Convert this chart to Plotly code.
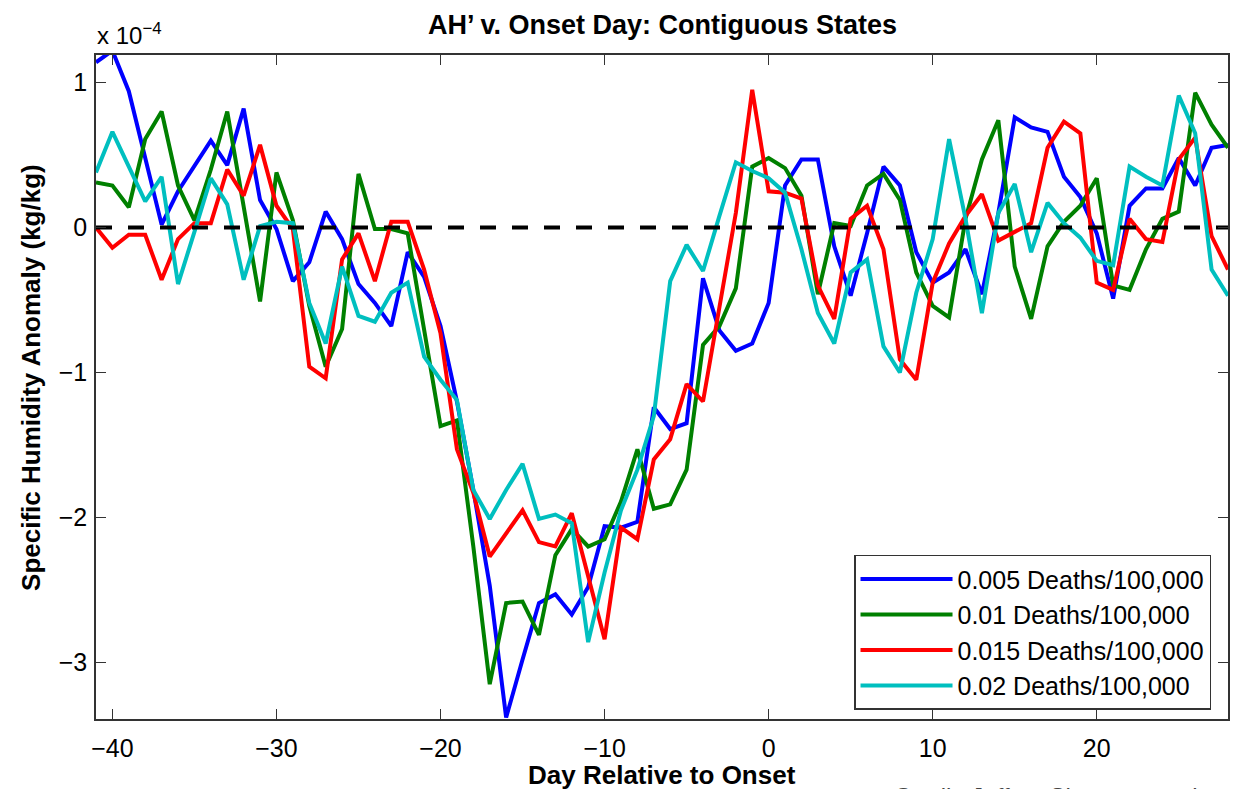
import plotly.graph_objects as go

days = list(range(-41, 29))

# values in units of 1e-4 kg/kg
blue_005 = [1.14, 1.22, 0.94, 0.48, 0.02, 0.25, 0.43, 0.60, 0.43, 0.82,
            0.19, -0.01, -0.37, -0.24, 0.11, -0.08, -0.39, -0.52, -0.68, -0.17,
            -0.34, -0.68, -1.20, -1.81, -2.47, -3.38, -2.98, -2.59, -2.53, -2.67,
            -2.48, -2.06, -2.07, -2.03, -1.24, -1.39, -1.35, -0.35, -0.71, -0.85,
            -0.80, -0.52, 0.29, 0.47, 0.47, -0.13, -0.47, -0.04, 0.42, 0.29,
            -0.17, -0.38, -0.31, -0.15, -0.46, 0.10, 0.76, 0.69, 0.66, 0.35,
            0.21, -0.04, -0.49, 0.15, 0.27, 0.27, 0.48, 0.29, 0.55, 0.57]
green_01 = [0.31, 0.29, 0.14, 0.61, 0.80, 0.29, 0.05, 0.40, 0.80, 0.15,
            -0.51, 0.38, 0.05, -0.54, -0.96, -0.70, 0.37, -0.01, -0.01, -0.04,
            -0.70, -1.37, -1.33, -2.20, -3.15, -2.59, -2.58, -2.81, -2.26, -2.08,
            -2.20, -2.15, -1.89, -1.53, -1.94, -1.91, -1.67, -0.81, -0.68, -0.42,
            0.42, 0.48, 0.41, 0.22, -0.46, 0.03, 0.01, 0.29, 0.37, 0.19,
            -0.31, -0.54, -0.62, 0.06, 0.47, 0.74, -0.27, -0.63, -0.13, 0.04,
            0.15, 0.34, -0.40, -0.43, -0.15, 0.06, 0.11, 0.93, 0.71, 0.55]
red_015 = [0.00, -0.14, -0.05, -0.05, -0.36, -0.08, 0.03, 0.03, 0.40, 0.22,
           0.57, 0.15, -0.01, -0.96, -1.04, -0.22, -0.04, -0.37, 0.04, 0.04,
           -0.29, -0.73, -1.53, -1.83, -2.27, -2.11, -1.95, -2.17, -2.20, -1.97,
           -2.40, -2.84, -2.07, -2.15, -1.60, -1.46, -1.08, -1.20, -0.55, 0.10,
           0.95, 0.25, 0.24, 0.20, -0.40, -0.63, 0.06, 0.15, -0.15, -0.91,
           -1.05, -0.38, -0.11, 0.08, 0.23, -0.09, -0.03, 0.03, 0.55, 0.73,
           0.65, -0.38, -0.43, 0.06, -0.08, -0.10, 0.47, 0.62, -0.06, -0.29]
cyan_02 = [0.38, 0.66, 0.42, 0.18, 0.35, -0.39, -0.03, 0.34, 0.16, -0.36,
           0.01, 0.04, 0.03, -0.52, -0.80, -0.27, -0.61, -0.65, -0.45, -0.38,
           -0.89, -1.05, -1.19, -1.81, -2.01, -1.81, -1.63, -2.01, -1.98, -2.04,
           -2.86, -2.38, -1.95, -1.67, -1.30, -0.37, -0.12, -0.30, 0.08, 0.45,
           0.39, 0.34, 0.24, -0.15, -0.59, -0.80, -0.31, -0.22, -0.82, -1.00,
           -0.45, -0.08, 0.61, 0.06, -0.59, 0.10, 0.30, -0.17, 0.17, 0.03,
           -0.07, -0.23, -0.26, 0.42, 0.35, 0.29, 0.91, 0.65, -0.29, -0.47]

series_names = ["0.005 Deaths/100,000", "0.01 Deaths/100,000",
                "0.015 Deaths/100,000", "0.02 Deaths/100,000"]
series_values = [blue_005, green_01, red_015, cyan_02]
series_colors = ["#0000FF", "#008000", "#FF0000", "#00BFBF"]

x_ticks = [-40, -30, -20, -10, 0, 10, 20]
y_ticks = [-3, -2, -1, 0, 1]
y_ticklabels = ["\u22123", "\u22122", "\u22121", "0", "1"]

FONT = "Liberation Sans, Arial, Helvetica, sans-serif"

fig = go.Figure()
for name, vals, col in zip(series_names, series_values, series_colors):
    fig.add_trace(go.Scatter(x=days, y=vals, mode="lines", name=name,
                             line=dict(color=col, width=4)))

fig.add_trace(go.Scatter(x=[days[0], days[-1]], y=[0, 0], mode="lines",
                         showlegend=False, hoverinfo="skip",
                         line=dict(color="black", width=4, dash="16px,16px")))

axis_common = dict(showline=True, linecolor="#333333", linewidth=1.5,
                   mirror="ticks", ticks="inside", ticklen=10, tickcolor="#333333",
                   showgrid=False, zeroline=False, automargin=False,
                   tickfont=dict(family=FONT, size=25, color="black"))

# page has an 8px body margin; figure is sized to fill the rest of the window
fig.update_layout(
    width=1230, height=781,
    margin=dict(l=88, r=10, t=47, b=70),
    paper_bgcolor="white", plot_bgcolor="white",
    font=dict(family=FONT, color="black"),
    xaxis=dict(range=[-41, 28], tickvals=x_ticks, ticklabelstandoff=6,
               **axis_common),
    yaxis=dict(range=[-3.39, 1.19], tickvals=y_ticks, ticktext=y_ticklabels,
               ticklabelstandoff=2, **axis_common),
    legend=dict(x=0.985, y=0.014, xanchor="right", yanchor="bottom",
                bgcolor="white", bordercolor="#333333", borderwidth=1.5,
                font=dict(family=FONT, size=25), itemwidth=92,
                tracegroupgap=0),
    showlegend=True,
)

fig.add_annotation(text="<b>AH\u2019 v. Onset Day: Contiguous States</b>",
                   xref="paper", yref="paper", x=0.5, y=1.0452,
                   xanchor="center", yanchor="middle", showarrow=False,
                   font=dict(family=FONT, size=27, color="black"))
fig.add_annotation(text="x 10<sup>\u22124</sup>", xref="paper", yref="paper",
                   x=-0.001, y=1.006, xanchor="left", yanchor="bottom", showarrow=False,
                   font=dict(family=FONT, size=24, color="black"))
fig.add_annotation(text="<b>Day Relative to Onset</b>", xref="paper", yref="paper",
                   x=0.5, y=-0.0843, xanchor="center", yanchor="middle", showarrow=False,
                   font=dict(family=FONT, size=26, color="black"))
fig.add_annotation(text="<b>Specific Humidity Anomaly (kg/kg)</b>", xref="paper",
                   yref="paper", x=-0.0575, y=0.515, xanchor="center", yanchor="middle",
                   textangle=-90, showarrow=False,
                   font=dict(family=FONT, size=26, color="black"))
fig.add_annotation(text="Credit: Jeffrey Shaman, et al.", xref="paper", yref="paper",
                   x=0.703, y=-0.0934, xanchor="left", yanchor="top", showarrow=False,
                   font=dict(family=FONT, size=24, color="#444444"))

fig.write_html("out.html")
